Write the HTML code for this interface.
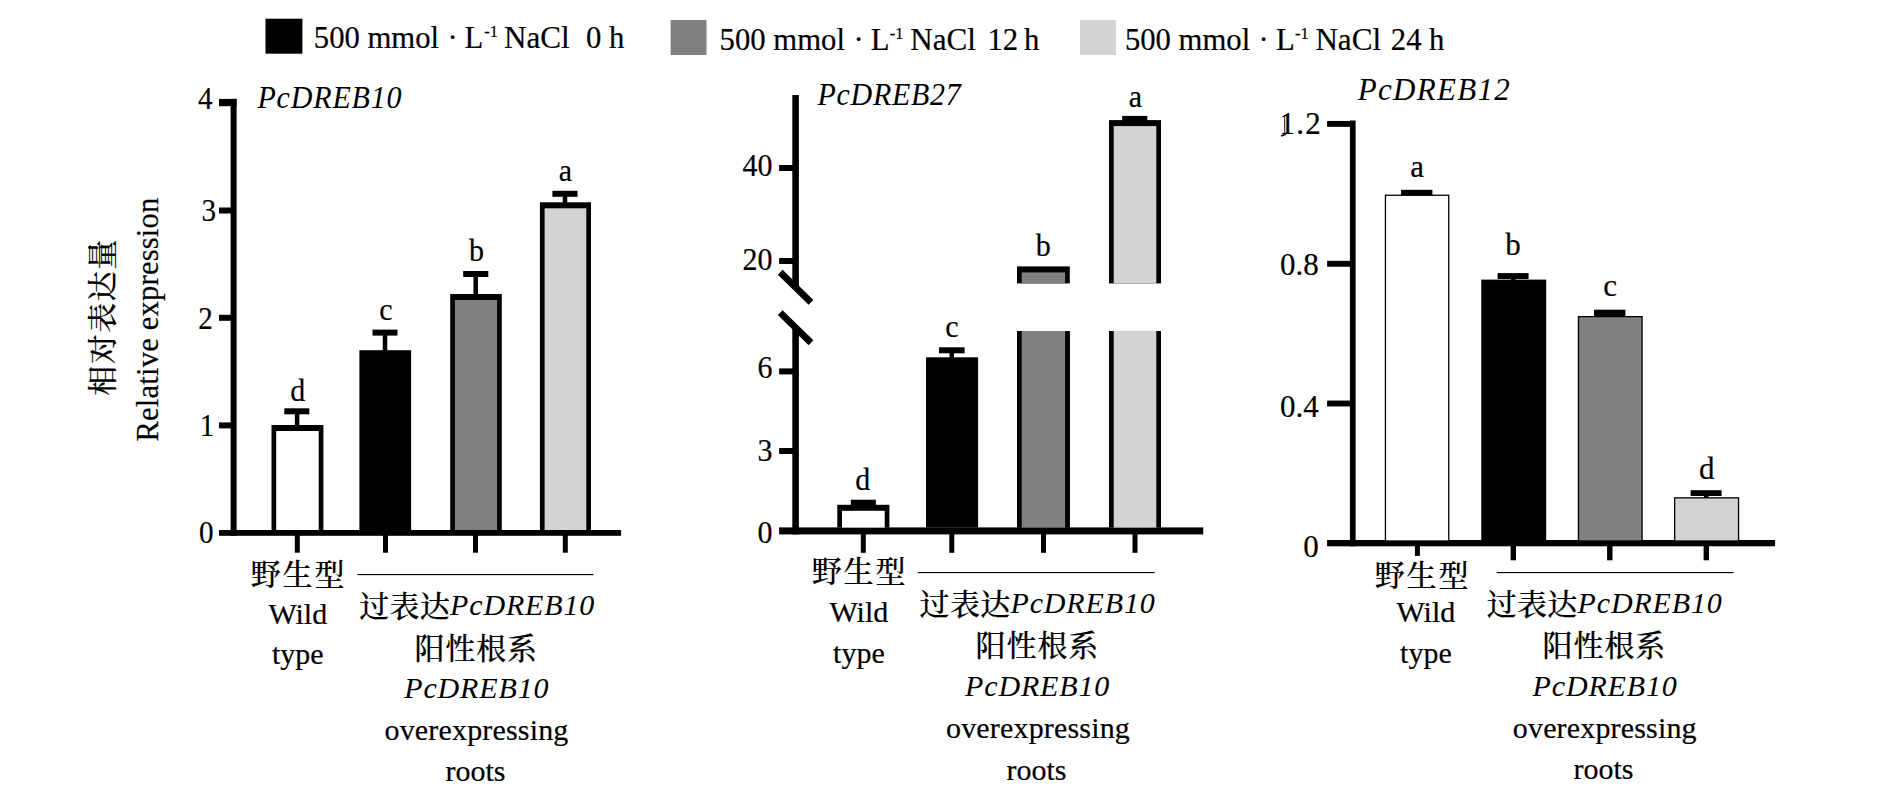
<!DOCTYPE html>
<html lang="zh">
<head>
<meta charset="utf-8">
<title>PcDREB relative expression</title>
<style>
html,body{margin:0;padding:0;background:#fff;}
body{width:1890px;height:798px;overflow:hidden;}
svg{display:block;font-family:"Liberation Serif", "Noto Serif CJK SC", serif;fill:#000;}
text{stroke:#000;stroke-width:0.2px;}
.it{font-style:italic;stroke:none;}
.cj{font-weight:500;stroke-width:0.15px;}
</style>
</head>
<body>
<svg width="1890" height="798" viewBox="0 0 1890 798" shape-rendering="geometricPrecision">
<rect x="0" y="0" width="1890" height="798" fill="#fff"/>
<rect x="265.50" y="18.70" width="36.90" height="35.00" fill="#000"/>
<text x="313.80" y="47.50" font-size="30.7" text-anchor="start">500 mmol</text>
<text x="447.60" y="47.50" font-size="30.7" text-anchor="start">·</text>
<text x="464.50" y="47.50" font-size="30.7" text-anchor="start">L</text>
<text x="484.20" y="37.30" font-size="16.5" text-anchor="start">-1</text>
<text x="504.00" y="47.50" font-size="31.099999999999998" text-anchor="start">NaCl</text>
<text x="586.00" y="47.50" font-size="30.7" text-anchor="start">0</text>
<text x="609.10" y="47.50" font-size="30.7" text-anchor="start">h</text>
<rect x="670.60" y="20.00" width="35.90" height="35.00" fill="#808080"/>
<text x="719.60" y="49.50" font-size="30.7" text-anchor="start">500 mmol</text>
<text x="853.40" y="49.50" font-size="30.7" text-anchor="start">·</text>
<text x="870.70" y="49.50" font-size="30.7" text-anchor="start">L</text>
<text x="889.80" y="39.30" font-size="16.5" text-anchor="start">-1</text>
<text x="910.20" y="49.50" font-size="31.099999999999998" text-anchor="start">NaCl</text>
<text x="987.40" y="49.50" font-size="30.7" text-anchor="start">12</text>
<text x="1024.10" y="49.50" font-size="30.7" text-anchor="start">h</text>
<rect x="1080.00" y="20.00" width="35.90" height="35.00" fill="#d3d3d3"/>
<text x="1124.90" y="49.50" font-size="30.7" text-anchor="start">500 mmol</text>
<text x="1258.60" y="49.50" font-size="30.7" text-anchor="start">·</text>
<text x="1275.90" y="49.50" font-size="30.7" text-anchor="start">L</text>
<text x="1295.00" y="39.30" font-size="16.5" text-anchor="start">-1</text>
<text x="1315.40" y="49.50" font-size="31.099999999999998" text-anchor="start">NaCl</text>
<text x="1390.80" y="49.50" font-size="30.7" text-anchor="start">24</text>
<text x="1429.10" y="49.50" font-size="30.7" text-anchor="start">h</text>
<rect x="230.60" y="98.90" width="6.00" height="436.80" fill="#000"/>
<rect x="219.00" y="530.00" width="402.10" height="5.80" fill="#000"/>
<rect x="219.00" y="98.90" width="17.60" height="7.30" fill="#000"/>
<rect x="219.00" y="207.50" width="13.00" height="6.00" fill="#000"/>
<rect x="219.00" y="314.80" width="13.00" height="6.00" fill="#000"/>
<rect x="219.00" y="422.40" width="13.00" height="6.00" fill="#000"/>
<text transform="translate(212.50 109.20) scale(0.97 1.05)" font-size="30" text-anchor="end">4</text>
<text transform="translate(216.00 220.80) scale(0.97 1.05)" font-size="30" text-anchor="end">3</text>
<text transform="translate(212.80 329.20) scale(0.97 1.05)" font-size="30" text-anchor="end">2</text>
<text transform="translate(214.40 436.20) scale(0.97 1.05)" font-size="30" text-anchor="end">1</text>
<text transform="translate(213.50 543.00) scale(0.97 1.05)" font-size="30" text-anchor="end">0</text>
<rect x="271.50" y="425.00" width="51.90" height="105.00" fill="#000"/>
<rect x="276.20" y="431.00" width="42.50" height="99.00" fill="#fff"/>
<rect x="359.40" y="350.20" width="51.70" height="179.80" fill="#000"/>
<rect x="450.20" y="294.00" width="51.60" height="236.00" fill="#000"/>
<rect x="454.90" y="300.00" width="42.20" height="230.00" fill="#808080"/>
<rect x="539.90" y="202.30" width="51.10" height="327.70" fill="#000"/>
<rect x="544.60" y="208.30" width="41.70" height="321.70" fill="#d3d3d3"/>
<rect x="284.30" y="408.30" width="25.00" height="6.00" fill="#000"/>
<rect x="294.85" y="413.80" width="4.50" height="11.70" fill="#000"/>
<rect x="372.50" y="329.60" width="25.00" height="6.00" fill="#000"/>
<rect x="382.75" y="335.10" width="4.50" height="16.40" fill="#000"/>
<rect x="463.20" y="271.00" width="25.10" height="6.00" fill="#000"/>
<rect x="473.45" y="276.50" width="4.50" height="18.00" fill="#000"/>
<rect x="552.40" y="190.80" width="25.10" height="6.00" fill="#000"/>
<rect x="562.75" y="196.30" width="4.50" height="7.20" fill="#000"/>
<rect x="294.80" y="535.00" width="5.00" height="17.70" fill="#000"/>
<rect x="383.00" y="535.00" width="5.00" height="17.70" fill="#000"/>
<rect x="473.00" y="535.00" width="5.00" height="17.70" fill="#000"/>
<rect x="562.80" y="535.00" width="5.00" height="17.70" fill="#000"/>
<text transform="translate(297.80 400.60) scale(1 1.08)" font-size="30" text-anchor="middle">d</text>
<text transform="translate(385.90 319.60) scale(1 1.08)" font-size="30" text-anchor="middle">c</text>
<text transform="translate(476.40 261.30) scale(1 1.08)" font-size="30" text-anchor="middle">b</text>
<text transform="translate(565.30 181.10) scale(1 1.08)" font-size="30" text-anchor="middle">a</text>
<text transform="translate(257.40 107.90) scale(1 1.06)" font-size="30" text-anchor="start" class="it" letter-spacing="0.85">PcDREB10</text>
<text transform="translate(113.3 317.0) rotate(-90)" font-size="30" text-anchor="middle" letter-spacing="1.5" class="cj">相对表达量</text>
<text transform="translate(158.0 319.5) rotate(-90)" font-size="30.6" text-anchor="middle" letter-spacing="0.19">Relative expression</text>
<rect x="792.30" y="95.00" width="6.60" height="193.00" fill="#000"/>
<rect x="792.30" y="328.00" width="6.60" height="206.40" fill="#000"/>
<line x1="780.20" y1="272.30" x2="811.00" y2="302.40" stroke="#000" stroke-width="6.8" stroke-linecap="butt"/>
<line x1="780.20" y1="312.60" x2="811.00" y2="342.70" stroke="#000" stroke-width="6.8" stroke-linecap="butt"/>
<rect x="779.10" y="527.40" width="424.10" height="7.00" fill="#000"/>
<rect x="779.10" y="165.00" width="14.40" height="6.00" fill="#000"/>
<rect x="779.10" y="258.00" width="14.40" height="6.00" fill="#000"/>
<rect x="779.10" y="368.40" width="14.40" height="6.00" fill="#000"/>
<rect x="779.10" y="448.00" width="14.40" height="6.00" fill="#000"/>
<text transform="translate(772.60 175.80) scale(1.0 1.07)" font-size="30" text-anchor="end">40</text>
<text transform="translate(772.60 269.60) scale(1.0 1.07)" font-size="30" text-anchor="end">20</text>
<text transform="translate(772.60 378.40) scale(1.0 1.07)" font-size="30" text-anchor="end">6</text>
<text transform="translate(772.60 460.90) scale(1.0 1.07)" font-size="30" text-anchor="end">3</text>
<text transform="translate(772.60 542.90) scale(1.0 1.07)" font-size="30" text-anchor="end">0</text>
<rect x="837.30" y="504.80" width="52.10" height="22.80" fill="#000"/>
<rect x="842.00" y="510.80" width="42.70" height="16.80" fill="#fff"/>
<rect x="926.00" y="357.30" width="52.10" height="170.30" fill="#000"/>
<rect x="1017.00" y="266.40" width="52.80" height="17.00" fill="#000"/>
<rect x="1021.70" y="272.40" width="43.40" height="11.00" fill="#808080"/>
<rect x="1017.00" y="326.30" width="52.80" height="201.30" fill="#000"/>
<rect x="1021.70" y="332.30" width="43.40" height="195.30" fill="#808080"/>
<rect x="1021.70" y="325.00" width="43.40" height="6.20" fill="#fff"/>
<rect x="1016.00" y="324.00" width="55.00" height="7.00" fill="#fff"/>
<rect x="1109.00" y="120.10" width="52.00" height="163.30" fill="#000"/>
<rect x="1113.70" y="126.10" width="42.60" height="157.30" fill="#d3d3d3"/>
<rect x="1109.00" y="331.00" width="52.00" height="196.60" fill="#000"/>
<rect x="1113.70" y="331.00" width="42.60" height="196.60" fill="#d3d3d3"/>
<rect x="1017.00" y="331.00" width="52.80" height="196.60" fill="#000"/>
<rect x="1021.70" y="331.00" width="43.40" height="196.60" fill="#808080"/>
<rect x="850.80" y="499.70" width="25.10" height="5.80" fill="#000"/>
<rect x="939.00" y="347.30" width="25.60" height="6.00" fill="#000"/>
<rect x="949.55" y="352.80" width="4.50" height="5.70" fill="#000"/>
<rect x="1122.20" y="115.90" width="25.10" height="5.10" fill="#000"/>
<rect x="860.80" y="534.00" width="5.00" height="18.80" fill="#000"/>
<rect x="949.30" y="534.00" width="5.00" height="18.80" fill="#000"/>
<rect x="1041.00" y="534.00" width="5.00" height="18.80" fill="#000"/>
<rect x="1132.50" y="534.00" width="5.00" height="18.80" fill="#000"/>
<text transform="translate(862.80 489.80) scale(1 1.08)" font-size="30" text-anchor="middle">d</text>
<text transform="translate(951.80 336.60) scale(1 1.08)" font-size="30" text-anchor="middle">c</text>
<text transform="translate(1043.30 255.90) scale(1 1.08)" font-size="30" text-anchor="middle">b</text>
<text transform="translate(1135.50 107.10) scale(1 1.08)" font-size="30" text-anchor="middle">a</text>
<text transform="translate(817.40 104.90) scale(1 1.07)" font-size="30" text-anchor="start" class="it" letter-spacing="0.75">PcDREB27</text>
<rect x="1349.90" y="120.50" width="5.70" height="425.80" fill="#000"/>
<rect x="1327.10" y="540.00" width="448.00" height="6.30" fill="#000"/>
<rect x="1327.10" y="120.95" width="23.90" height="5.90" fill="#000"/>
<rect x="1327.10" y="260.85" width="23.90" height="5.90" fill="#000"/>
<rect x="1327.10" y="400.55" width="23.90" height="5.90" fill="#000"/>
<text x="1322.10" y="134.40" font-size="31" text-anchor="end" letter-spacing="1.3">1.2</text>
<text x="1318.80" y="275.00" font-size="31" text-anchor="end">0.8</text>
<text x="1318.80" y="416.70" font-size="31" text-anchor="end">0.4</text>
<text x="1318.80" y="557.40" font-size="31" text-anchor="end">0</text>
<rect x="1385.45" y="195.25" width="63.30" height="345.75" fill="#fff" stroke="#000" stroke-width="1.3"/>
<rect x="1481.95" y="280.25" width="63.60" height="260.75" fill="#000" stroke="#000" stroke-width="1.3"/>
<rect x="1578.45" y="316.65" width="63.60" height="224.35" fill="#808080" stroke="#000" stroke-width="1.3"/>
<rect x="1674.65" y="497.85" width="63.90" height="43.15" fill="#d3d3d3" stroke="#000" stroke-width="1.3"/>
<rect x="1401.10" y="189.80" width="31.30" height="5.50" fill="#000"/>
<rect x="1497.60" y="273.10" width="31.00" height="5.90" fill="#000"/>
<rect x="1511.00" y="278.00" width="4.50" height="3.00" fill="#000"/>
<rect x="1594.00" y="309.70" width="31.40" height="6.30" fill="#000"/>
<rect x="1690.60" y="490.20" width="31.00" height="5.80" fill="#000"/>
<rect x="1704.00" y="495.00" width="4.50" height="3.00" fill="#000"/>
<rect x="1414.90" y="546.00" width="5.00" height="9.90" fill="#000"/>
<rect x="1510.60" y="546.00" width="5.40" height="14.30" fill="#000"/>
<rect x="1607.10" y="546.00" width="5.40" height="14.30" fill="#000"/>
<rect x="1703.60" y="546.00" width="5.40" height="14.30" fill="#000"/>
<text x="1417.10" y="176.50" font-size="31" text-anchor="middle">a</text>
<text x="1513.10" y="255.10" font-size="31" text-anchor="middle">b</text>
<text x="1610.10" y="295.70" font-size="31" text-anchor="middle">c</text>
<text x="1706.80" y="478.90" font-size="31" text-anchor="middle">d</text>
<line x1="1284.70" y1="115.20" x2="1284.70" y2="134.60" stroke="#000" stroke-width="0.9" stroke-linecap="butt"/>
<line x1="1281.00" y1="136.00" x2="1285.60" y2="134.30" stroke="#000" stroke-width="1.5" stroke-linecap="butt"/>
<text x="1357.70" y="100.00" font-size="31" text-anchor="start" class="it" letter-spacing="1.3">PcDREB12</text>
<text x="298.50" y="584.50" font-size="30" text-anchor="middle" letter-spacing="1.9" class="cj">野生型</text>
<text x="297.80" y="624.00" font-size="30" text-anchor="middle">Wild</text>
<text x="297.80" y="664.30" font-size="30" text-anchor="middle">type</text>
<rect x="357.40" y="574.00" width="236.10" height="1.15" fill="#000"/>
<text x="359.20" y="616.70" font-size="30"><tspan letter-spacing="0.3" class="cj">过表达</tspan><tspan class="it" letter-spacing="0.85" dy="-1.8">PcDREB10</tspan></text>
<text x="476.20" y="658.50" font-size="30" text-anchor="middle" letter-spacing="0.9" class="cj">阳性根系</text>
<text x="476.80" y="697.70" font-size="30" text-anchor="middle" class="it" letter-spacing="0.85">PcDREB10</text>
<text x="476.50" y="739.60" font-size="30" text-anchor="middle" letter-spacing="0.17">overexpressing</text>
<text x="475.50" y="781.00" font-size="30" text-anchor="middle">roots</text>
<text x="859.50" y="582.00" font-size="30" text-anchor="middle" letter-spacing="1.9" class="cj">野生型</text>
<text x="858.90" y="621.50" font-size="30" text-anchor="middle">Wild</text>
<text x="858.90" y="662.80" font-size="30" text-anchor="middle">type</text>
<rect x="917.80" y="572.00" width="236.90" height="1.15" fill="#000"/>
<text x="919.60" y="614.80" font-size="30"><tspan letter-spacing="0.3" class="cj">过表达</tspan><tspan class="it" letter-spacing="0.85" dy="-1.8">PcDREB10</tspan></text>
<text x="1037.40" y="656.00" font-size="30" text-anchor="middle" letter-spacing="0.9" class="cj">阳性根系</text>
<text x="1037.60" y="696.00" font-size="30" text-anchor="middle" class="it" letter-spacing="0.85">PcDREB10</text>
<text x="1038.00" y="738.20" font-size="30" text-anchor="middle" letter-spacing="0.17">overexpressing</text>
<text x="1036.50" y="779.60" font-size="30" text-anchor="middle">roots</text>
<text x="1422.50" y="585.50" font-size="30" text-anchor="middle" letter-spacing="1.9" class="cj">野生型</text>
<text x="1425.90" y="621.50" font-size="30" text-anchor="middle">Wild</text>
<text x="1425.90" y="662.80" font-size="30" text-anchor="middle">type</text>
<rect x="1496.70" y="572.00" width="236.90" height="1.15" fill="#000"/>
<text x="1486.70" y="614.80" font-size="30"><tspan letter-spacing="0.3" class="cj">过表达</tspan><tspan class="it" letter-spacing="0.85" dy="-1.8">PcDREB10</tspan></text>
<text x="1604.40" y="656.00" font-size="30" text-anchor="middle" letter-spacing="0.9" class="cj">阳性根系</text>
<text x="1605.10" y="695.60" font-size="30" text-anchor="middle" class="it" letter-spacing="0.85">PcDREB10</text>
<text x="1604.80" y="738.00" font-size="30" text-anchor="middle" letter-spacing="0.17">overexpressing</text>
<text x="1603.50" y="779.20" font-size="30" text-anchor="middle">roots</text>
</svg>
</body>
</html>
